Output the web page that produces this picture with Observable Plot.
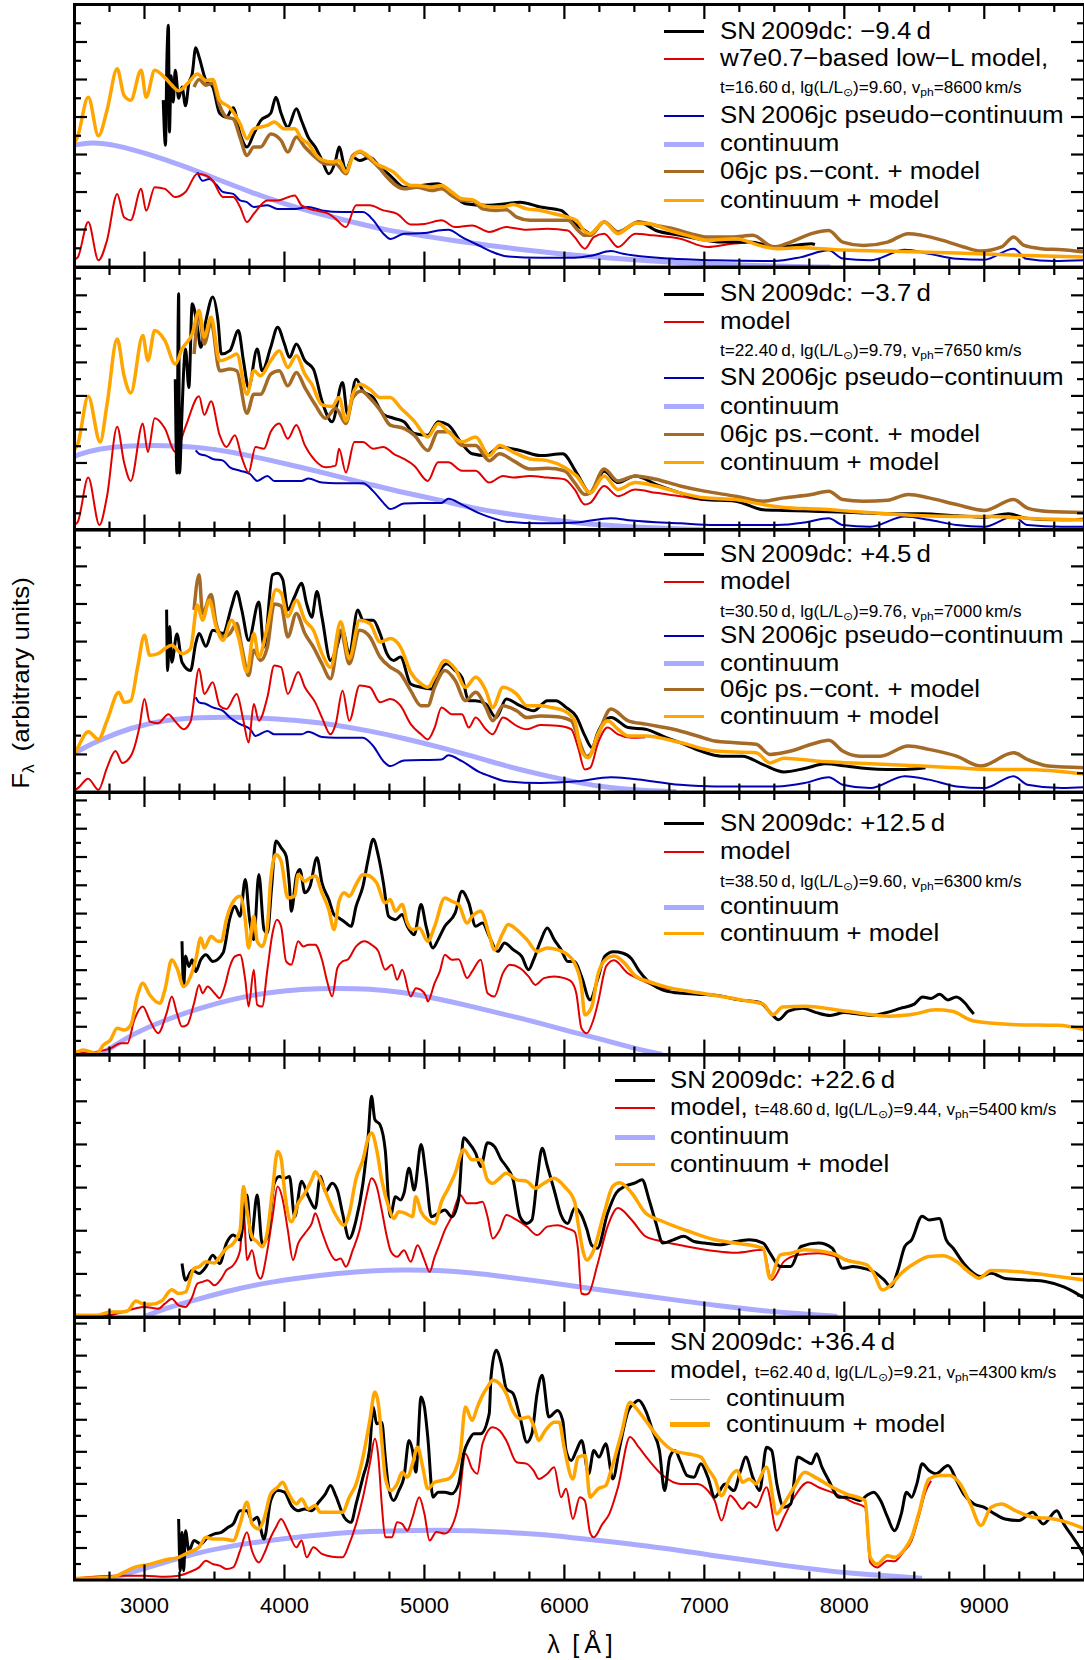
<!DOCTYPE html>
<html><head><meta charset="utf-8">
<script src="https://cdn.jsdelivr.net/npm/d3@7"></script>
<script src="https://cdn.jsdelivr.net/npm/@observablehq/plot@0.6"></script>
<style>
body{margin:0;background:#fff;font-family:"Liberation Sans",Arial,Helvetica,sans-serif;}
#chart{position:relative;width:1084px;height:1660px;overflow:hidden;background:#fff;}
#chart svg{position:absolute;left:0;overflow:visible;}
.lg{position:absolute;white-space:nowrap;font-size:23.5px;line-height:1;color:#000;transform-origin:0 50%;transform:translateY(-50%) scaleX(1.1);}
.sm{font-size:15.6px;}
.sm sub{font-size:11px;vertical-align:-3px;line-height:0;}
.ln{position:absolute;height:0;}
.ylab{position:absolute;left:21px;top:683px;font-size:24px;white-space:nowrap;transform:translate(-50%,-50%) rotate(-90deg) scaleX(1.08);}
.ylab sub{font-size:16px;vertical-align:-5px;line-height:0;}
.xlab{position:absolute;left:580px;top:1644px;font-size:25px;white-space:nowrap;transform:translate(-50%,-50%);}
</style></head><body><div id="chart"></div>
<script>
// ---------------- data: wavelength (Å), flux (arbitrary units) ----------------
const xTickLabels = [3000, 4000, 5000, 6000, 7000, 8000, 9000];
const panelYMax = [14, 15.66, 13.96, 18.56, 12.17, 16.38];

// Panel 1: SN 2009dc -9.4 d
const p1_cont = [[2500,6.5],[2620,6.66],[2780,6.54],[3024,6.04],[3268,5.42],[3512,4.71],[3756,4.0],[4000,3.37],[4244,2.84],[4488,2.4],[4732,1.95],[4976,1.69],[5220,1.39],[5464,1.15],[5707,0.92],[5951,0.72],[6200,0.55],[6600,0.33],[7000,0.17],[7500,0.05],[7900,0]];
const p1_jc = [[3378,5.06],[3415,4.6],[3463,4.7],[3512,4.4],[3561,4.0],[3634,3.9],[3683,3.55],[3732,3.46],[3781,3.2],[3878,3.3],[3951,3.1],[4073,3.1],[4171,3.2],[4268,3.02],[4415,2.93],[4561,2.93],[4634,2.5],[4707,1.78],[4756,1.5],[4854,1.78],[5000,1.81],[5098,1.95],[5171,1.99],[5268,1.6],[5390,1.15],[5488,0.8],[5585,0.57],[5829,0.5],[6073,0.5],[6200,0.62],[6333,0.85],[6420,0.71],[6753,0.45],[7074,0.36],[7500,0.32],[7691,0.53],[7889,0.89],[7988,0.45],[8185,0.36],[8432,0.92],[8605,0.71],[8802,0.44],[9000,0.39],[9210,0.98],[9300,0.44],[9494,0.32],[9716,0.36]];
const p1_model = [[2500,0.4],[2524,0.53],[2598,2.4],[2671,0.36],[2732,1.42],[2805,3.9],[2854,2.66],[2902,2.5],[2976,4.17],[3012,3.0],[3073,4.26],[3146,4.17],[3220,3.73],[3293,4.0],[3378,4.97],[3439,4.88],[3488,4.6],[3561,3.73],[3634,3.73],[3683,3.2],[3732,2.4],[3781,2.84],[3878,3.55],[3951,3.55],[4073,3.82],[4122,3.29],[4220,3.02],[4317,2.84],[4366,2.57],[4439,2.13],[4512,3.29],[4610,3.29],[4707,3.02],[4805,2.84],[4902,2.27],[5000,2.3],[5122,2.49],[5220,2.13],[5341,2.22],[5464,1.87],[5585,2.13],[5732,1.99],[5878,2.04],[6024,1.95],[6073,1.6],[6146,0.98],[6210,1.6],[6284,1.78],[6383,1.07],[6506,1.78],[6630,1.69],[6827,1.51],[7025,1.07],[7198,1.24],[7300,1.3]];
const p1_obs = [[3134,8.9],[3150,6.5],[3160,11],[3171,12.9],[3178,7.2],[3190,10.2],[3205,8.8],[3220,10.5],[3244,9.0],[3268,9.6],[3293,8.6],[3317,9.8],[3341,10.3],[3366,11.7],[3390,11.2],[3439,9.95],[3488,9.6],[3537,8.2],[3585,8.0],[3634,8.5],[3683,7.1],[3732,6.4],[3781,7.1],[3829,7.8],[3902,8.2],[3939,9.06],[3976,8.2],[4024,7.46],[4085,8.44],[4122,7.8],[4171,6.9],[4220,6.4],[4268,5.7],[4317,4.97],[4366,5.7],[4390,6.4],[4439,5.15],[4488,5.86],[4537,5.68],[4610,5.86],[4683,5.33],[4756,4.88],[4854,4.26],[4976,4.35],[5098,4.44],[5195,3.9],[5293,3.37],[5439,3.29],[5585,3.37],[5683,3.46],[5829,3.2],[5976,3.02],[6073,2.31],[6146,1.95],[6185,1.78],[6284,2.4],[6383,1.87],[6531,2.4],[6654,1.95],[6827,1.69],[6951,1.51],[7123,1.33],[7321,1.33],[7518,1.07],[7765,1.24],[7790,1.2]];
const p1_jcModel = [[3354,9.6],[3390,10.0],[3439,9.7],[3488,9.8],[3537,8.6],[3585,8.0],[3634,7.9],[3683,6.9],[3732,5.95],[3781,6.4],[3829,6.4],[3902,7.1],[3976,6.75],[4024,6.13],[4085,6.93],[4146,6.4],[4220,5.86],[4293,5.5],[4366,5.5],[4439,4.97],[4488,5.95],[4537,6.13],[4610,5.77],[4683,5.24],[4732,4.8],[4854,4.17],[4951,4.26],[5049,4.08],[5122,4.17],[5195,3.82],[5268,3.55],[5341,3.55],[5415,3.1],[5512,3.02],[5585,3.05],[5659,2.66],[5756,2.49],[5878,2.49],[6024,2.49],[6098,1.95],[6146,1.69],[6185,1.69],[6284,2.4],[6383,1.87],[6531,2.4],[6654,2.22],[6778,2.04],[6901,1.78],[7025,1.6],[7198,1.6],[7346,1.69],[7494,1.07],[7617,1.33],[7765,1.78],[7889,1.95],[7988,1.33],[8136,1.15],[8309,1.33],[8457,1.78],[8556,1.69],[8704,1.42],[8852,1.07],[8975,0.85],[9123,1.07],[9210,1.6],[9284,1.15],[9407,0.98],[9555,0.92],[9716,0.8]];
const p1_contModel = [[2500,6.6],[2524,7.0],[2598,9.06],[2671,7.0],[2732,8.35],[2805,10.57],[2854,9.15],[2902,8.9],[2976,10.5],[3012,9.06],[3073,10.5],[3146,10.1],[3195,9.7],[3244,9.4],[3317,9.86],[3378,10.3],[3439,9.95],[3488,10.0],[3537,8.9],[3610,8.5],[3683,7.64],[3732,6.84],[3781,7.37],[3878,7.55],[3927,7.73],[4000,7.37],[4073,7.37],[4122,6.84],[4171,6.57],[4220,6.04],[4268,5.72],[4341,5.6],[4390,5.68],[4439,5.06],[4488,5.86],[4537,6.18],[4610,5.86],[4659,5.5],[4707,5.33],[4780,5.06],[4854,4.53],[4902,4.35],[4951,4.35],[5049,4.26],[5122,4.35],[5195,4.0],[5268,3.64],[5341,3.59],[5415,3.29],[5488,3.2],[5561,3.2],[5634,3.34],[5732,3.1],[5829,3.02],[5927,2.84],[6024,2.66],[6086,2.49],[6146,1.9],[6185,1.78],[6284,2.4],[6383,1.78],[6506,2.34],[6605,2.31],[6753,1.95],[6877,1.69],[7025,1.42],[7222,1.51],[7420,1.1],[7519,0.98],[7691,1.03],[7938,0.92],[8309,0.85],[8802,0.75],[9296,0.62],[9716,0.53]];

// Panel 2: SN 2009dc -3.7 d
const p2_cont = [[2500,4.4],[2524,4.48],[2659,4.85],[2902,5.05],[3146,5.05],[3390,4.95],[3634,4.65],[3878,4.2],[4122,3.74],[4366,3.23],[4610,2.73],[4854,2.22],[5098,1.82],[5341,1.31],[5585,0.97],[5829,0.7],[6073,0.44],[6300,0.28],[6600,0.12],[7000,0.02]];
const p2_jc = [[3366,4.75],[3390,4.55],[3439,4.44],[3488,4.24],[3561,4.14],[3610,3.74],[3683,3.54],[3756,3.33],[3805,2.93],[3878,3.23],[3927,2.93],[4024,2.93],[4122,2.93],[4171,3.07],[4268,2.83],[4366,2.79],[4561,2.79],[4634,2.32],[4707,1.62],[4756,1.25],[4854,1.58],[4976,1.62],[5122,1.62],[5171,1.86],[5268,1.52],[5390,1.01],[5488,0.71],[5585,0.5],[5829,0.4],[6086,0.45],[6333,0.71],[6481,0.57],[6827,0.4],[7074,0.3],[7519,0.3],[7716,0.45],[7889,0.71],[7988,0.3],[8185,0.2],[8432,0.81],[8605,0.61],[8802,0.3],[9000,0.2],[9210,0.81],[9308,0.3],[9555,0.2],[9716,0.2]];
const p2_model = [[2500,0.3],[2524,0.5],[2598,3.13],[2678,0.3],[2732,2.0],[2805,6.16],[2854,4.04],[2902,2.93],[2988,6.36],[3024,4.65],[3073,6.67],[3146,6.06],[3220,4.65],[3293,6.16],[3390,7.98],[3427,6.87],[3476,7.68],[3537,5.66],[3585,4.95],[3646,5.66],[3695,4.34],[3744,3.43],[3793,4.95],[3854,4.85],[3902,5.86],[3963,6.36],[4024,5.45],[4085,6.26],[4146,5.05],[4220,4.14],[4293,3.74],[4366,3.84],[4390,4.85],[4439,3.43],[4500,5.25],[4561,5.25],[4634,4.85],[4707,4.95],[4780,4.55],[4854,4.24],[4927,3.84],[5024,2.93],[5098,4.04],[5171,4.04],[5268,3.54],[5366,3.54],[5463,2.83],[5561,3.23],[5634,3.13],[5756,3.23],[5878,3.13],[6000,3.03],[6073,2.42],[6146,1.52],[6185,1.62],[6284,2.63],[6383,2.02],[6506,2.42],[6654,2.22],[6827,2.02],[7000,1.8],[7100,1.85]];
const p2_obs = [[3220,9.0],[3232,3.4],[3240,12],[3244,14.1],[3250,3.4],[3268,7.0],[3280,9.5],[3293,10.8],[3317,8.5],[3341,13.5],[3378,12.1],[3402,10.9],[3439,12.5],[3488,13.9],[3525,12.5],[3549,10.5],[3610,10.7],[3671,11.9],[3707,10.1],[3744,8.5],[3805,10.8],[3841,9.5],[3902,10.9],[3951,12.1],[4000,11.1],[4036,10.3],[4085,11.1],[4146,10.1],[4207,9.6],[4268,7.7],[4341,6.46],[4415,8.8],[4451,6.9],[4512,9.0],[4561,8.3],[4634,7.9],[4707,6.9],[4780,6.67],[4854,6.46],[4927,5.76],[5024,5.66],[5098,6.46],[5171,6.26],[5268,5.15],[5341,4.55],[5439,4.44],[5537,4.95],[5683,4.75],[5829,4.44],[5988,4.55],[6086,3.43],[6185,2.22],[6284,3.5],[6383,2.83],[6506,3.23],[6654,2.73],[6827,2.22],[7000,1.82],[7222,1.72],[7420,1.21],[7568,1.17],[7815,1.11],[8062,1.05],[8309,0.97],[8556,0.97],[8802,0.85],[9000,0.77],[9173,0.97],[9296,0.71],[9543,0.61],[9716,0.65]];
const p2_jcModel = [[3354,10.5],[3390,12.8],[3427,11.1],[3476,12.4],[3537,9.5],[3610,9.6],[3659,9.5],[3732,6.97],[3781,8.1],[3829,8.1],[3902,9.3],[3963,9.5],[4024,8.6],[4085,9.4],[4146,8.5],[4220,7.47],[4293,6.67],[4366,7.27],[4439,6.36],[4488,7.88],[4549,8.3],[4610,7.88],[4683,7.17],[4756,6.26],[4854,6.06],[4927,5.66],[5024,4.75],[5098,5.86],[5171,5.86],[5268,5.05],[5366,5.05],[5463,4.14],[5537,4.55],[5634,4.14],[5756,3.64],[5878,3.68],[6000,3.54],[6073,2.83],[6146,2.12],[6185,2.22],[6284,3.64],[6383,2.93],[6506,3.23],[6654,3.03],[6827,2.63],[7000,2.32],[7222,2.02],[7420,1.72],[7568,1.92],[7765,2.12],[7889,2.32],[7988,1.82],[8136,1.72],[8309,1.78],[8457,2.12],[8605,1.92],[8802,1.52],[9000,1.17],[9210,1.82],[9308,1.31],[9457,1.11],[9716,1.05]];
const p2_contModel = [[2500,4.8],[2524,5.15],[2598,7.98],[2683,5.25],[2732,7.47],[2805,11.4],[2854,9.2],[2902,8.18],[2988,11.6],[3024,10.1],[3073,11.9],[3146,11.3],[3220,9.9],[3268,10.8],[3341,11.7],[3390,13.1],[3427,11.5],[3476,12.7],[3537,10.1],[3610,10.3],[3659,10.5],[3732,8.1],[3781,9.5],[3829,9.2],[3902,10.1],[3963,10.7],[4024,9.7],[4085,10.4],[4146,9.3],[4195,8.7],[4268,7.47],[4341,7.37],[4390,7.9],[4439,6.5],[4488,8.1],[4537,8.7],[4610,8.4],[4683,7.9],[4756,7.9],[4829,7.3],[4927,6.5],[5024,5.55],[5098,6.36],[5171,5.86],[5268,5.25],[5366,5.55],[5463,4.44],[5537,5.05],[5634,4.65],[5756,4.24],[5878,4.14],[6000,3.74],[6086,3.23],[6185,2.22],[6284,3.23],[6383,2.42],[6506,2.83],[6654,2.63],[6827,2.22],[7000,1.92],[7222,1.82],[7420,1.52],[7568,1.35],[7815,1.25],[8062,1.11],[8309,0.97],[8556,0.85],[8802,0.81],[9049,0.81],[9296,0.71],[9716,0.6]];

// Panel 3: SN 2009dc +4.5 d
const p3_cont = [[2500,2.05],[2524,2.18],[2659,2.71],[2902,3.43],[3146,3.84],[3390,3.96],[3634,4.0],[3878,3.91],[4122,3.79],[4366,3.57],[4610,3.25],[4854,2.86],[5098,2.41],[5341,1.91],[5585,1.38],[5829,0.93],[6073,0.54],[6239,0.3],[6500,0.1],[6800,0.01]];
const p3_jc = [[3366,5.04],[3390,4.77],[3439,4.68],[3488,4.5],[3561,4.32],[3610,3.96],[3683,3.61],[3756,3.34],[3793,2.98],[3878,3.25],[3927,3.07],[4024,3.07],[4122,3.07],[4171,3.21],[4268,2.93],[4366,2.89],[4561,2.89],[4634,2.45],[4707,1.64],[4756,1.38],[4854,1.68],[5122,1.73],[5171,1.95],[5268,1.64],[5390,1.07],[5488,0.79],[5585,0.57],[5829,0.48],[6086,0.57],[6333,0.79],[6481,0.71],[6827,0.39],[7074,0.3],[7519,0.3],[7716,0.48],[7889,0.79],[7988,0.39],[8185,0.21],[8432,0.84],[8605,0.66],[8802,0.3],[9000,0.21],[9210,0.84],[9308,0.39],[9555,0.21],[9716,0.25]];
const p3_model = [[2500,0.1],[2524,0.21],[2598,0.71],[2671,0.12],[2732,1.29],[2793,2.18],[2841,1.55],[2902,1.91],[2963,3.43],[3000,4.95],[3037,3.75],[3098,3.66],[3171,4.14],[3220,3.75],[3280,3.34],[3329,3.75],[3390,6.55],[3427,5.21],[3488,5.84],[3537,4.59],[3585,4.41],[3659,5.21],[3707,3.79],[3744,2.63],[3781,4.68],[3817,3.79],[3878,5.04],[3927,6.73],[3976,6.64],[4024,5.21],[4098,6.38],[4146,5.57],[4220,4.77],[4268,3.96],[4329,3.07],[4366,3.61],[4415,5.39],[4463,3.79],[4537,5.66],[4610,5.57],[4683,4.77],[4756,4.95],[4829,4.59],[4902,3.61],[4976,3.07],[5024,2.8],[5073,3.43],[5122,4.5],[5195,4.14],[5268,4.14],[5317,3.43],[5366,3.96],[5439,3.34],[5488,3.07],[5561,3.96],[5659,3.52],[5732,3.34],[5829,3.57],[5951,3.52],[6049,3.34],[6098,2.36],[6146,1.2],[6185,1.3],[6240,2.6],[6309,3.43],[6383,3.07],[6481,2.89],[6580,2.92]];
const p3_obs = [[3158,9.7],[3165,6.46],[3180,8.8],[3195,6.9],[3232,8.4],[3268,6.9],[3329,6.46],[3366,7.9],[3390,8.43],[3439,7.75],[3488,8.6],[3561,8.43],[3622,9.86],[3659,10.66],[3695,9.68],[3744,8.07],[3817,10.1],[3854,7.71],[3915,11.55],[3951,11.64],[3988,11.3],[4024,9.68],[4073,10.4],[4122,11.1],[4159,10.0],[4195,9.3],[4232,10.66],[4268,9.3],[4329,7.0],[4366,7.5],[4415,8.6],[4463,7.36],[4524,9.68],[4561,9.14],[4634,9.14],[4683,8.43],[4732,7.36],[4780,7.0],[4829,7.18],[4902,5.75],[4976,5.57],[5049,5.48],[5098,6.3],[5159,6.82],[5220,6.46],[5268,6.1],[5317,4.86],[5366,4.86],[5439,4.68],[5512,3.96],[5585,4.95],[5683,4.59],[5780,4.32],[5878,4.86],[5939,4.86],[6012,4.5],[6086,4.0],[6146,3.0],[6198,2.36],[6235,3.1],[6333,3.96],[6457,3.43],[6580,3.34],[6728,2.89],[6827,2.63],[6975,2.18],[7123,1.91],[7272,1.91],[7420,1.46],[7568,1.07],[7716,1.25],[7864,1.5],[8012,1.38],[8160,1.25],[8309,1.2],[8432,1.2],[8580,1.29]];
const p3_jcModel = [[3354,9.68],[3390,11.55],[3415,9.5],[3476,10.5],[3512,8.96],[3561,8.25],[3610,8.43],[3659,8.96],[3695,7.71],[3744,6.2],[3781,7.54],[3829,7.0],[3878,7.71],[3927,10.0],[3976,9.9],[4024,8.25],[4085,9.5],[4146,8.43],[4207,7.71],[4268,6.82],[4329,6.02],[4402,8.6],[4463,6.82],[4537,8.6],[4610,8.25],[4683,7.18],[4756,6.64],[4829,6.29],[4902,5.39],[4976,4.59],[5024,4.59],[5073,5.57],[5146,6.46],[5220,5.93],[5293,4.86],[5366,5.3],[5439,4.5],[5488,3.79],[5561,4.59],[5659,4.32],[5732,3.96],[5829,4.05],[5951,4.0],[6049,3.79],[6098,2.89],[6159,1.91],[6185,2.0],[6239,3.0],[6333,4.41],[6457,3.79],[6580,3.61],[6778,3.34],[6951,2.98],[7074,2.71],[7222,2.62],[7370,2.54],[7469,2.0],[7617,2.18],[7765,2.54],[7889,2.75],[7988,2.18],[8111,1.91],[8259,1.91],[8457,2.45],[8605,2.27],[8802,1.91],[8975,1.38],[9210,2.09],[9308,1.73],[9457,1.38],[9716,1.29]];
const p3_contModel = [[2500,2.0],[2524,2.36],[2598,3.21],[2671,2.8],[2732,3.79],[2817,5.3],[2854,4.77],[2902,4.86],[2951,6.64],[3000,8.34],[3037,7.27],[3098,7.36],[3146,7.63],[3195,7.8],[3268,7.36],[3329,7.63],[3378,9.95],[3415,9.14],[3463,10.2],[3512,8.79],[3561,8.07],[3622,9.14],[3671,8.25],[3732,6.38],[3781,8.43],[3817,7.18],[3878,8.79],[3939,10.75],[3976,10.6],[4024,9.32],[4085,10.2],[4146,9.14],[4207,8.6],[4268,7.36],[4329,6.64],[4402,9.05],[4463,7.09],[4537,9.14],[4610,8.96],[4683,7.98],[4756,8.16],[4829,7.71],[4902,6.38],[4976,5.75],[5024,5.57],[5073,6.1],[5146,7.0],[5220,6.55],[5293,5.57],[5366,6.1],[5439,5.39],[5488,4.5],[5561,5.57],[5659,5.21],[5732,4.59],[5829,4.59],[5902,4.5],[5998,4.32],[6073,3.79],[6122,2.18],[6171,1.82],[6239,3.07],[6309,3.79],[6383,3.34],[6457,2.98],[6580,2.98],[6827,2.63],[7074,2.18],[7370,2.09],[7469,1.55],[7568,1.8],[7815,1.64],[8062,1.55],[8309,1.46],[8556,1.38],[8802,1.29],[9049,1.2],[9296,1.2],[9716,0.96]];

// Panel 4: SN 2009dc +12.5 d
const p4_cont = [[2683,0.05],[2780,0.6],[2902,1.42],[3146,2.48],[3390,3.31],[3634,3.97],[3878,4.42],[4122,4.66],[4366,4.73],[4610,4.68],[4854,4.44],[5098,3.97],[5341,3.43],[5585,2.84],[5829,2.25],[6073,1.58],[6239,1.18],[6400,0.75],[6550,0.35],[6700,0.05]];
const p4_model = [[2500,0.12],[2659,0.24],[2756,0.47],[2829,0.83],[2878,0.83],[2927,2.48],[2988,3.43],[3037,2.48],[3098,1.54],[3158,2.96],[3195,4.14],[3232,2.96],[3268,2.01],[3305,2.13],[3354,3.66],[3390,4.96],[3415,4.37],[3451,4.85],[3500,4.37],[3537,4.02],[3573,4.85],[3610,6.26],[3646,6.97],[3683,7.09],[3720,5.32],[3744,3.43],[3781,6.03],[3805,3.55],[3841,3.43],[3878,6.03],[3915,8.63],[3946,9.57],[3976,9.1],[4012,6.62],[4049,6.38],[4098,8.04],[4134,7.68],[4171,7.8],[4220,7.8],[4268,6.74],[4305,5.2],[4341,4.14],[4378,6.15],[4415,6.62],[4451,6.74],[4512,7.68],[4573,8.04],[4622,7.8],[4671,7.33],[4720,6.03],[4768,6.38],[4805,5.32],[4841,6.03],[4902,4.14],[4939,4.73],[4976,4.61],[5012,4.14],[5024,3.78],[5073,5.08],[5110,5.91],[5146,7.09],[5195,6.74],[5244,6.78],[5305,5.44],[5341,5.91],[5402,6.74],[5451,4.37],[5500,4.14],[5561,5.79],[5610,6.38],[5683,6.15],[5744,5.56],[5793,4.96],[5854,5.44],[5927,5.56],[6000,5.44],[6049,5.2],[6085,4.37],[6122,1.89],[6159,1.54],[6207,2.48],[6239,3.66],[6300,6.3],[6355,6.7],[6450,5.8],[6550,5.3],[6700,4.72],[6800,4.65]];
const p4_obs = [[3268,8.04],[3280,4.85],[3293,7.0],[3317,6.26],[3341,6.74],[3366,5.9],[3402,6.74],[3439,7.09],[3488,6.62],[3561,7.21],[3610,9.69],[3646,10.52],[3683,9.81],[3720,12.41],[3751,9.57],[3781,8.16],[3817,12.77],[3854,8.87],[3878,8.63],[3907,11.7],[3939,15.13],[3976,14.66],[4012,14.07],[4036,11.94],[4049,10.17],[4085,12.65],[4110,13.12],[4146,11.47],[4183,11.94],[4232,13.95],[4268,12.17],[4317,11.0],[4354,9.93],[4390,9.69],[4439,9.34],[4476,9.1],[4512,10.52],[4561,11.94],[4598,13.83],[4634,15.25],[4671,14.07],[4707,12.17],[4744,9.81],[4793,9.57],[4841,9.93],[4878,9.1],[4927,8.51],[4976,10.64],[5012,9.1],[5061,7.57],[5098,8.16],[5146,9.1],[5220,10.05],[5268,11.58],[5317,10.76],[5366,9.1],[5415,9.34],[5463,8.39],[5524,7.33],[5573,7.92],[5634,7.45],[5695,6.97],[5744,6.03],[5780,6.74],[5829,8.04],[5878,8.98],[5927,8.16],[5976,7.45],[6024,6.62],[6073,6.62],[6122,5.56],[6183,3.9],[6239,5.4],[6290,7.0],[6350,7.3],[6420,7.2],[6480,6.8],[6530,6.0],[6600,5.2],[6700,4.6],[6800,4.4],[6950,4.3],[7100,4.2],[7250,3.9],[7400,3.7],[7480,2.9],[7530,2.5],[7600,3.1],[7700,3.3],[7800,3.0],[7900,2.8],[8000,3.0],[8100,2.9],[8200,2.8],[8300,3.0],[8400,3.3],[8500,3.6],[8560,4.1],[8620,4.0],[8680,4.3],[8740,3.9],[8800,4.1],[8860,3.7],[8900,3.2],[8925,2.9]];
const p4_contModel = [[2500,0.2],[2524,0.24],[2561,0.35],[2659,0.12],[2707,0.71],[2756,1.06],[2805,1.89],[2854,1.77],[2902,2.13],[2951,4.26],[2988,5.08],[3037,4.26],[3110,3.66],[3146,4.61],[3195,6.74],[3232,6.15],[3280,4.85],[3329,5.56],[3366,6.74],[3402,8.27],[3427,7.57],[3476,8.39],[3524,8.04],[3549,8.04],[3585,9.57],[3622,10.64],[3683,11.23],[3720,9.57],[3744,7.57],[3781,9.81],[3805,8.04],[3841,7.68],[3878,9.1],[3902,12.41],[3939,14.18],[3976,13.71],[4024,11.11],[4073,11.23],[4098,12.77],[4146,12.29],[4183,12.53],[4220,12.65],[4268,11.47],[4317,10.28],[4354,8.87],[4390,10.87],[4427,11.47],[4463,11.23],[4512,12.06],[4561,12.77],[4610,12.65],[4659,12.17],[4720,10.76],[4756,11.0],[4793,10.17],[4841,10.64],[4878,9.34],[4915,8.87],[4963,8.98],[5024,8.04],[5073,9.1],[5146,11.11],[5195,10.87],[5244,10.64],[5305,9.34],[5341,9.81],[5402,10.17],[5463,8.51],[5500,7.45],[5561,8.63],[5598,9.22],[5659,8.87],[5732,8.16],[5805,7.33],[5878,7.57],[5951,7.45],[6024,7.09],[6073,6.5],[6122,4.85],[6146,2.84],[6195,3.4],[6239,5.67],[6300,6.8],[6355,7.0],[6430,6.5],[6506,5.6],[6600,5.2],[6733,4.8],[6960,4.4],[7262,3.9],[7420,3.6],[7489,2.85],[7560,3.4],[7716,3.45],[8018,3.1],[8320,2.75],[8500,2.9],[8650,3.2],[8770,3.1],[8925,2.4],[9227,2.15],[9529,2.1],[9716,1.8]];

// Panel 5: SN 2009dc +22.6 d
const p5_cont = [[3000,0.02],[3146,0.4],[3390,0.85],[3634,1.27],[3878,1.6],[4122,1.83],[4366,2.02],[4610,2.14],[4854,2.2],[5098,2.17],[5341,2.05],[5585,1.86],[5829,1.66],[6073,1.42],[6333,1.2],[6580,0.98],[6827,0.76],[7074,0.55],[7321,0.36],[7600,0.18],[7950,0.03]];
const p5_model = [[2500,0.05],[2756,0.1],[3000,0.47],[3098,0.39],[3146,0.62],[3195,0.85],[3244,0.54],[3293,0.47],[3341,0.93],[3378,1.55],[3415,1.63],[3451,1.71],[3500,1.47],[3549,1.78],[3585,2.17],[3634,2.4],[3683,3.1],[3707,5.12],[3732,2.64],[3768,3.1],[3805,2.02],[3829,1.78],[3878,3.1],[3915,4.65],[3951,6.05],[3988,5.43],[4024,4.03],[4061,2.64],[4098,3.41],[4146,3.88],[4195,4.34],[4220,4.81],[4268,3.95],[4317,3.1],[4366,2.64],[4402,2.71],[4439,2.33],[4488,3.1],[4537,4.03],[4585,5.58],[4622,6.43],[4659,6.05],[4695,4.96],[4732,3.72],[4756,3.1],[4780,2.87],[4805,2.79],[4854,3.1],[4902,2.56],[4951,3.33],[5000,2.64],[5037,2.09],[5073,2.79],[5110,3.41],[5146,4.03],[5195,4.65],[5256,5.66],[5305,5.27],[5366,5.27],[5415,5.35],[5451,4.65],[5488,3.64],[5537,4.03],[5585,4.73],[5659,4.5],[5732,4.19],[5805,3.8],[5878,4.19],[5951,4.26],[6024,4.1],[6073,3.95],[6098,3.1],[6122,1.09],[6150,1.05],[6173,1.1],[6235,2.4],[6309,4.2],[6383,5.05],[6481,4.5],[6580,3.74],[6704,3.5],[6877,3.27],[7074,3.06],[7222,2.98],[7420,3.12],[7481,1.72],[7568,2.57],[7667,2.88],[7815,2.96],[7938,2.81],[8050,2.6]];
const p5_obs = [[3268,2.48],[3293,1.71],[3341,2.17],[3390,2.02],[3439,2.33],[3488,2.87],[3537,2.48],[3585,3.41],[3634,3.8],[3683,3.57],[3732,5.66],[3762,3.57],[3805,5.66],[3841,3.41],[3878,3.72],[3927,6.2],[3963,6.51],[4000,6.43],[4036,6.51],[4073,4.65],[4122,6.29],[4171,5.58],[4220,5.04],[4256,6.53],[4293,5.81],[4341,6.2],[4378,5.89],[4415,4.81],[4463,3.64],[4512,4.5],[4561,6.2],[4598,8.37],[4622,10.23],[4646,9.15],[4683,8.91],[4720,7.75],[4756,4.65],[4793,5.58],[4829,5.43],[4854,5.74],[4890,6.9],[4927,5.89],[4976,8.0],[5012,6.51],[5049,4.65],[5098,4.81],[5146,4.96],[5195,4.65],[5244,5.43],[5280,8.31],[5317,8.08],[5366,7.6],[5402,6.98],[5451,8.08],[5500,7.91],[5549,7.29],[5585,6.98],[5634,6.36],[5683,4.65],[5732,4.34],[5768,4.5],[5805,6.36],[5841,7.83],[5878,7.0],[5927,5.89],[5976,4.73],[6024,4.34],[6073,5.04],[6122,4.73],[6159,4.1],[6195,3.33],[6235,3.19],[6309,4.82],[6370,5.75],[6432,6.06],[6506,6.22],[6555,6.37],[6605,5.44],[6654,4.36],[6704,3.43],[6778,3.58],[6852,3.74],[6926,3.5],[7000,3.43],[7123,3.35],[7222,3.5],[7321,3.58],[7420,3.43],[7469,2.96],[7543,2.34],[7617,2.34],[7691,3.27],[7815,3.43],[7914,3.19],[7988,2.26],[8062,2.34],[8136,2.26],[8210,2.1],[8284,1.72],[8333,1.41],[8383,2.17],[8432,3.27],[8481,3.58],[8556,4.67],[8605,4.5],[8679,4.57],[8728,3.58],[8778,3.19],[8852,2.5],[8975,1.88],[9049,2.03],[9148,1.79],[9296,1.72],[9444,1.64],[9568,1.4],[9637,1.18],[9716,0.87]];
const p5_contModel = [[2500,0.08],[2659,0.08],[2756,0.23],[2830,0.23],[2878,0.28],[2939,0.74],[3000,0.59],[3049,0.59],[3122,0.74],[3195,1.27],[3244,1.09],[3293,1.16],[3354,2.25],[3390,2.33],[3439,2.56],[3500,2.51],[3537,2.79],[3585,3.18],[3634,3.41],[3683,4.03],[3707,6.05],[3732,4.96],[3768,3.72],[3805,3.49],[3841,3.26],[3878,3.95],[3915,5.89],[3951,7.67],[3976,7.36],[4000,5.89],[4049,4.42],[4098,5.27],[4146,5.74],[4195,6.36],[4220,6.74],[4268,6.2],[4317,5.43],[4366,4.73],[4427,4.26],[4463,4.81],[4512,6.43],[4561,7.29],[4598,8.29],[4622,8.53],[4659,7.75],[4695,6.36],[4744,5.12],[4780,4.57],[4817,4.88],[4866,4.81],[4915,4.65],[4939,5.58],[4976,4.88],[5024,4.5],[5073,4.34],[5122,5.35],[5171,5.97],[5220,6.67],[5280,7.75],[5341,7.29],[5402,7.29],[5451,6.36],[5488,6.2],[5524,6.36],[5585,6.67],[5659,6.36],[5732,6.29],[5793,5.97],[5854,6.2],[5927,6.43],[6000,6.05],[6073,5.35],[6098,4.34],[6134,3.03],[6161,2.64],[6200,2.95],[6284,4.82],[6346,6.06],[6395,6.22],[6481,5.75],[6580,4.82],[6704,4.43],[6877,4.0],[7074,3.58],[7222,3.43],[7420,3.19],[7469,1.79],[7543,2.88],[7617,2.96],[7716,3.12],[7914,2.96],[8012,2.64],[8160,2.42],[8210,2.03],[8272,1.26],[8333,1.49],[8407,2.03],[8506,2.5],[8605,2.81],[8704,2.84],[8802,2.57],[8901,2.03],[8963,1.8],[9049,2.16],[9247,2.1],[9444,1.95],[9716,1.72]];

// Panel 6: SN 2009dc +36.4 d
const p6_cont = [[2756,0.06],[2902,0.48],[3146,1.1],[3390,1.73],[3634,2.15],[3878,2.46],[4122,2.71],[4366,2.92],[4610,3.04],[4854,3.08],[5098,3.13],[5341,3.08],[5585,2.98],[5829,2.85],[6073,2.63],[6210,2.5],[6580,2.15],[7074,1.52],[7568,0.9],[8062,0.38],[8556,0.12]];
const p6_model = [[2500,0.1],[2780,0.27],[3000,0.27],[3146,0.2],[3244,0.27],[3317,0.48],[3390,0.79],[3439,1.21],[3488,1.0],[3537,0.9],[3585,0.69],[3634,0.79],[3683,1.83],[3732,2.98],[3768,1.83],[3817,1.1],[3854,1.63],[3902,2.67],[3939,3.29],[3976,3.81],[4024,3.08],[4085,2.04],[4122,2.46],[4159,1.42],[4207,2.04],[4268,1.63],[4341,1.46],[4415,1.42],[4463,2.25],[4512,3.5],[4561,5.17],[4610,7.25],[4646,8.81],[4671,7.67],[4695,4.75],[4720,2.67],[4768,2.67],[4805,3.6],[4841,3.5],[4878,3.08],[4915,3.92],[4963,5.17],[5000,4.13],[5037,2.46],[5085,3.0],[5146,2.9],[5195,3.33],[5244,4.75],[5293,7.88],[5341,6.94],[5378,6.63],[5415,8.5],[5488,9.54],[5537,9.33],[5585,8.71],[5659,7.35],[5732,7.25],[5780,6.83],[5817,6.31],[5878,6.63],[5927,7.04],[5976,5.17],[6012,5.69],[6061,3.81],[6110,5.17],[6146,4.96],[6183,2.98],[6210,2.67],[6272,3.5],[6321,4.13],[6383,5.79],[6469,8.92],[6531,8.29],[6605,7.46],[6704,6.52],[6827,6.0],[6951,6.0],[7025,5.58],[7074,4.96],[7123,3.71],[7185,5.27],[7222,4.96],[7272,4.44],[7321,4.85],[7370,4.54],[7444,5.79],[7518,3.08],[7568,3.92],[7642,5.17],[7741,6.1],[7815,5.79],[7938,5.38],[8062,4.85],[8148,4.54],[8185,1.1],[8235,0.79],[8309,1.21],[8358,1.17],[8420,1.73],[8481,2.46],[8531,3.92],[8580,5.5],[8620,6.2]];
const p6_obs = [[3244,3.81],[3256,0.58],[3268,2.98],[3280,0.58],[3293,3.08],[3317,1.83],[3354,2.46],[3402,2.25],[3451,2.67],[3500,2.88],[3549,2.98],[3598,3.29],[3634,3.5],[3683,4.33],[3732,4.33],[3768,3.71],[3805,3.92],[3854,2.56],[3902,4.96],[3951,5.58],[4000,5.48],[4049,4.65],[4098,4.33],[4146,4.44],[4195,4.33],[4244,4.85],[4293,5.38],[4329,5.9],[4366,5.27],[4427,3.92],[4476,3.6],[4512,4.75],[4561,6.42],[4610,8.29],[4634,10.79],[4659,9.75],[4695,9.85],[4720,7.67],[4744,5.79],[4780,4.96],[4817,5.58],[4854,6.42],[4890,8.71],[4915,8.08],[4939,6.73],[4976,11.42],[5000,10.79],[5024,8.92],[5061,5.17],[5098,5.48],[5146,5.48],[5195,5.38],[5244,6.0],[5280,7.88],[5317,8.71],[5354,9.13],[5402,9.13],[5463,10.38],[5476,12.67],[5512,14.33],[5549,13.5],[5585,11.94],[5634,11.63],[5683,10.17],[5732,8.6],[5768,9.13],[5805,11.63],[5841,12.77],[5889,10.17],[5951,10.58],[5988,9.96],[6012,8.08],[6049,7.46],[6086,8.08],[6123,8.71],[6173,6.63],[6210,8.08],[6247,7.67],[6296,8.5],[6346,6.31],[6395,8.29],[6457,10.58],[6494,11.0],[6531,11.21],[6580,10.58],[6630,9.33],[6679,8.08],[6716,5.58],[6753,7.67],[6790,8.08],[6827,7.46],[6877,6.52],[6926,6.42],[6975,7.25],[7025,6.42],[7074,5.17],[7148,6.0],[7210,5.58],[7259,6.83],[7296,7.67],[7346,6.42],[7395,5.58],[7444,8.29],[7481,8.08],[7518,6.0],[7568,4.54],[7617,4.75],[7667,7.67],[7716,7.46],[7765,7.25],[7802,7.88],[7840,7.04],[7889,6.21],[7963,5.17],[8037,5.17],[8111,4.96],[8160,5.27],[8210,5.48],[8259,4.96],[8309,3.92],[8358,3.08],[8407,4.13],[8444,5.48],[8481,5.17],[8518,6.0],[8556,7.25],[8605,6.83],[8654,6.63],[8741,7.15],[8802,6.21],[8852,5.38],[8926,4.75],[9000,4.54],[9074,4.13],[9148,3.81],[9247,3.71],[9346,4.23],[9420,3.5],[9518,4.33],[9568,3.5],[9617,2.88],[9666,2.25],[9716,1.52]];
const p6_contModel = [[2500,0.1],[2756,0.17],[2854,0.48],[2927,0.79],[3024,0.96],[3146,1.25],[3244,1.42],[3317,1.73],[3390,2.04],[3439,2.67],[3488,2.56],[3561,2.56],[3634,2.46],[3683,3.5],[3732,4.85],[3768,3.5],[3817,3.19],[3854,3.81],[3902,5.38],[3951,5.79],[3988,6.1],[4024,5.48],[4085,4.75],[4122,5.06],[4171,4.44],[4220,4.65],[4256,4.23],[4317,4.23],[4415,4.23],[4463,5.17],[4512,6.0],[4561,7.67],[4610,9.96],[4646,11.73],[4671,11.0],[4695,8.71],[4720,6.42],[4756,5.58],[4805,6.0],[4841,6.73],[4878,6.42],[4915,7.25],[4951,8.29],[4988,7.04],[5024,5.69],[5073,6.1],[5122,6.21],[5171,6.31],[5220,6.83],[5256,7.88],[5293,10.79],[5341,9.96],[5378,10.79],[5415,11.52],[5451,12.04],[5488,12.46],[5537,12.25],[5585,11.63],[5634,10.5],[5683,10.06],[5744,10.17],[5780,9.65],[5817,8.71],[5854,9.2],[5927,9.85],[5963,9.85],[5998,8.29],[6061,6.31],[6098,7.67],[6148,7.77],[6183,5.17],[6198,5.27],[6240,5.69],[6296,5.9],[6333,6.83],[6407,9.13],[6469,11.1],[6506,10.79],[6580,9.96],[6679,8.81],[6778,8.08],[6877,7.88],[6975,7.67],[7025,6.94],[7074,6.31],[7123,5.27],[7185,6.42],[7235,6.83],[7272,6.1],[7321,6.31],[7370,6.0],[7444,7.04],[7518,4.13],[7568,4.75],[7642,5.79],[7716,6.73],[7790,6.42],[7914,5.79],[8012,5.38],[8148,4.96],[8185,1.42],[8235,1.0],[8309,1.52],[8358,1.42],[8432,1.94],[8481,2.67],[8531,4.13],[8605,6.31],[8679,6.52],[8753,6.52],[8827,6.0],[8901,4.75],[8975,3.4],[9049,4.54],[9123,4.75],[9222,4.33],[9346,3.92],[9494,3.81],[9593,3.6],[9716,3.19]];

// legend texts
const epochs = ["\u22129.4", "\u22123.7", "+4.5", "+12.5", "+22.6", "+36.4"];
const modelParams = [
  ["16.60", "9.60", "8600"], ["22.40", "9.79", "7650"], ["30.50", "9.76", "7000"],
  ["38.50", "9.60", "6300"], ["48.60", "9.44", "5400"], ["62.40", "9.21", "4300"]
];

// ---------------- styling / layout ----------------
const C = {obs: "#000000", model: "#e00000", jc: "#0000b4", cont: "#aaaaff", jcModel: "#a46a26", contModel: "#ffa500"};
const SW = {obs: 3, model: 2, jc: 2, cont: 5, jcModel: 3.5, contModel: 3.5};
const W = 1084, ML = 74, MR = 0;
const XDOM = [2500, 9716];
const TOP0 = 4.2, PH = 262.55;
const chart = document.getElementById("chart");

const panels = [
  {layers: [["cont", p1_cont], ["jc", p1_jc], ["model", p1_model], ["obs", p1_obs], ["jcModel", p1_jcModel], ["contModel", p1_contModel]]},
  {layers: [["cont", p2_cont], ["jc", p2_jc], ["model", p2_model], ["obs", p2_obs], ["jcModel", p2_jcModel], ["contModel", p2_contModel]]},
  {layers: [["cont", p3_cont], ["jc", p3_jc], ["model", p3_model], ["obs", p3_obs], ["jcModel", p3_jcModel], ["contModel", p3_contModel]]},
  {layers: [["cont", p4_cont], ["model", p4_model], ["obs", p4_obs], ["contModel", p4_contModel]]},
  {layers: [["cont", p5_cont], ["model", p5_model], ["obs", p5_obs], ["contModel", p5_contModel]]},
  {layers: [["cont", p6_cont], ["model", p6_model], ["obs", p6_obs], ["contModel", p6_contModel]]}
];

const xTicksAll = d3.range(XDOM[0], XDOM[1] + 1, 250);
const xMajor = xTicksAll.filter(d => d % 1000 === 0);
const xMinor = xTicksAll.filter(d => d % 1000 !== 0);

panels.forEach((p, i) => {
  const last = i === panels.length - 1;
  const pad = 3;
  const mb = last ? 50 : pad;
  const top = TOP0 + i * PH;
  const ymax = panelYMax[i];
  const FW = W - ML - MR;
  const yt = d3.range(1, Math.floor(ymax - 0.25) + 1);
  const yMaj = yt.filter(d => d % 2 === 0), yMin = yt.filter(d => d % 2 !== 0);
  const marks = p.layers.map(([k, data]) => Plot.line(data, {
    x: d => d[0], y: d => d[1], stroke: C[k], strokeWidth: SW[k], clip: true,
    curve: k === "cont" ? "basis" : "monotone-x",
    strokeLinejoin: "round", strokeLinecap: "butt"
  }));
  const tk = {stroke: "#000", strokeWidth: 2.2};
  marks.push(
    Plot.tickX(xMajor, {x: d => d, insetTop: PH - 15, ...tk}),
    Plot.tickX(xMinor, {x: d => d, insetTop: PH - 8, ...tk}),
    Plot.tickX(xMajor, {x: d => d, insetBottom: PH - 15, ...tk}),
    Plot.tickX(xMinor, {x: d => d, insetBottom: PH - 8, ...tk}),
    Plot.tickY(yMaj, {y: d => d, insetRight: FW - 13, ...tk}),
    Plot.tickY(yMin, {y: d => d, insetRight: FW - 7, ...tk}),
    Plot.tickY(yMaj, {y: d => d, insetLeft: FW - 13, ...tk}),
    Plot.tickY(yMin, {y: d => d, insetLeft: FW - 7, ...tk}),
    Plot.frame({stroke: "#000", strokeWidth: 3})
  );
  if (last) {
    marks.push(Plot.axisX(xTickLabels, {anchor: "bottom", tickSize: 0, tickPadding: 17, fontSize: 22, tickFormat: d => `${d}`}));
  }
  const svg = Plot.plot({
    width: W, height: PH + pad + mb,
    marginTop: pad, marginBottom: mb, marginLeft: ML, marginRight: MR,
    x: {domain: XDOM, axis: null},
    y: {domain: [0, ymax], axis: null},
    style: {background: "transparent", fontFamily: "'Liberation Sans', Arial, sans-serif", color: "#000"},
    marks
  });
  svg.style.top = (top - pad) + "px";
  chart.appendChild(svg);
});

// ---------------- legends ----------------
function smallParams(i) {
  const [t, l, v] = modelParams[i];
  return `<span class="sm">t=${t}\u2009d, lg(L/L<sub>\u2299</sub>)=${l}, v<sub>ph</sub>=${v}\u2009km/s</span>`;
}
function addRow(panelIdx, dy, key, html, lx, tx, lw) {
  const y = TOP0 + panelIdx * PH + dy;
  if (key) {
    const w = lw || SW[key];
    const ln = document.createElement("div");
    ln.className = "ln";
    ln.style.left = lx + "px"; ln.style.width = "40px";
    ln.style.top = (y - w / 2) + "px";
    ln.style.borderTop = `${w}px solid ${C[key]}`;
    chart.appendChild(ln);
  }
  const t = document.createElement("div");
  t.className = "lg";
  t.style.left = tx + "px"; t.style.top = y + "px";
  t.innerHTML = html;
  chart.appendChild(t);
}
const sn = i => `SN\u20092009dc: ${epochs[i]}\u2009d`;
// panels 1-3
[0, 1, 2].forEach(i => {
  const off = i === 2 ? [25.4, 52.9, 80.5, 106.9, 134.4, 160.9, 187.4] : [27.5, 55, 82, 111.5, 140, 167.8, 196.3];
  addRow(i, off[0], "obs", sn(i), 664, 720);
  addRow(i, off[1], "model", i === 0 ? "w7e0.7\u2212based low\u2212L model," : "model", 664, 720);
  addRow(i, off[2], null, smallParams(i), 664, 720);
  addRow(i, off[3], "jc", "SN\u20092006jc pseudo\u2212continuum", 664, 720);
  addRow(i, off[4], "cont", "continuum", 664, 720);
  addRow(i, off[5], "jcModel", "06jc ps.\u2212cont. + model", 664, 720);
  addRow(i, off[6], "contModel", "continuum + model", 664, 720);
});
// panel 4
addRow(3, 31.7, "obs", sn(3), 664, 720);
addRow(3, 60.3, "model", "model", 664, 720);
addRow(3, 87.8, null, smallParams(3), 664, 720);
addRow(3, 115.3, "cont", "continuum", 664, 720);
addRow(3, 141.8, "contModel", "continuum + model", 664, 720);
// panel 5
addRow(4, 26.4, "obs", sn(4), 615, 670);
addRow(4, 54, "model", "model, " + smallParams(4), 615, 670);
addRow(4, 82.6, "cont", "continuum", 615, 670);
addRow(4, 110.1, "contModel", "continuum + model", 615, 670);
// panel 6
addRow(5, 26.4, "obs", sn(5), 615, 670);
addRow(5, 53.9, "model", "model, " + smallParams(5), 615, 670);
addRow(5, 82.5, "cont", "continuum", 670, 726, 1.5);
addRow(5, 107.9, "contModel", "continuum + model", 670, 726, 5);

// axis titles
const yl = document.createElement("div");
yl.className = "ylab";
yl.innerHTML = "F<sub>\u03bb</sub>\u2002(arbitrary units)";
chart.appendChild(yl);
const xl = document.createElement("div");
xl.className = "xlab";
xl.textContent = "\u03bb\u2002[\u2009\u00c5\u2009]";
chart.appendChild(xl);
</script></body></html>
